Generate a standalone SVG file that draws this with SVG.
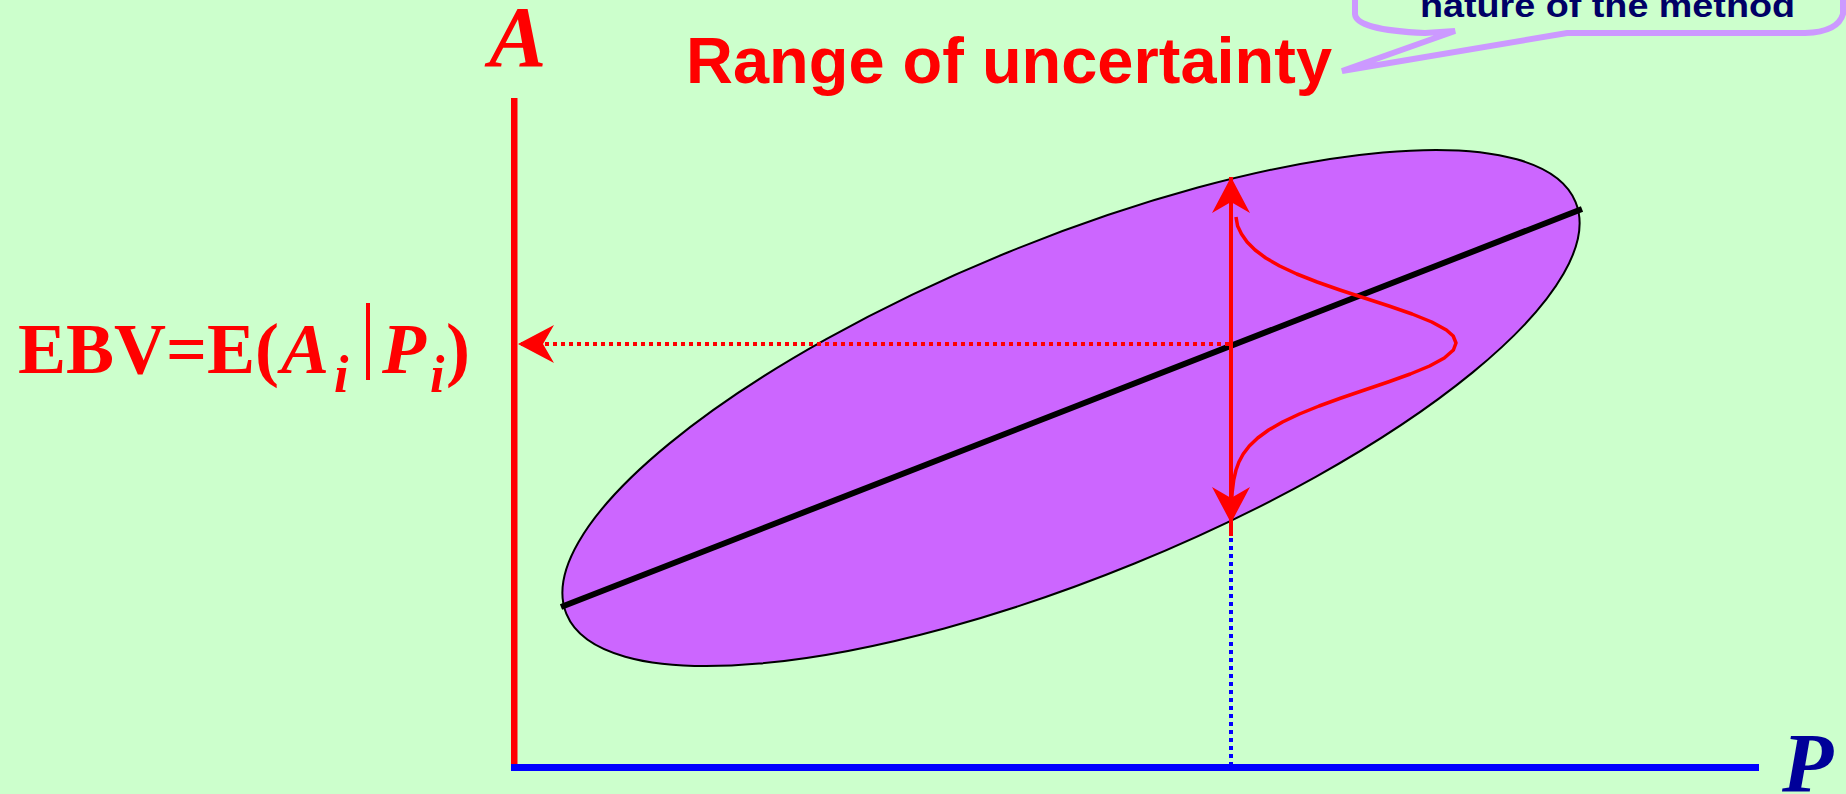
<svg xmlns="http://www.w3.org/2000/svg" width="1846" height="794" viewBox="0 0 1846 794">
  <style>
    .serif { font-family: "Liberation Serif", "Times New Roman", serif; font-weight: bold; }
    .it { font-style: italic; }
    .red { fill: #FF0000; }
    .comic { font-family: "Liberation Sans", Arial, sans-serif; font-weight: bold; }
  </style>
  <defs>
    <marker id="arrow" markerUnits="userSpaceOnUse" markerWidth="40" markerHeight="44" viewBox="-38 -22 40 44" refX="0" refY="0" orient="auto-start-reverse">
      <path d="M0,0 L-36,-19 L-25,0 L-36,19 Z" fill="#FF0000"/>
    </marker>
  </defs>
  <rect x="0" y="0" width="1846" height="794" fill="#CCFFCC"/>

  <g id="ellipse">
    <ellipse cx="1071" cy="408" rx="545" ry="168" transform="rotate(-22.2 1071 408)" fill="#CC66FF" stroke="#000000" stroke-width="2"/>
  </g>

  <g id="axes">
    <rect x="511" y="98" width="6.5" height="670" fill="#FF0000"/>
    <rect x="511" y="764" width="1248" height="7" fill="#0000FF"/>
  </g>

  <g id="connectors">
    <line id="regression" x1="561" y1="607" x2="1582" y2="209" stroke="#000000" stroke-width="6"/>
    <path id="ebv-arrow" d="M1229,344 L518,344" stroke="#FF0000" stroke-width="4" stroke-dasharray="4 4" fill="none" marker-end="url(#arrow)"/>
    <path id="range-arrow" d="M1231,177 L1231,523" stroke="#FF0000" stroke-width="4" fill="none" marker-start="url(#arrow)" marker-end="url(#arrow)"/>
    <line x1="1231" y1="520" x2="1231" y2="536" stroke="#FF0000" stroke-width="4"/>
    <line id="p-drop" x1="1231" y1="538" x2="1231" y2="764" stroke="#0000FF" stroke-width="4" stroke-dasharray="4 4"/>
    <path id="density" d="M1236,217 L1237.6,226 L1241.5,234 L1247.1,242 L1255.1,250 L1265.8,258 L1279.7,266 L1296.8,274 L1317.1,282 L1339.9,290 L1364.4,298 L1389,306 L1412.1,314 L1431.8,322 L1446.4,330 L1453.2,336 L1456,343 L1453.4,350 L1444.3,358 L1429.6,366 L1410.3,374 L1388.1,382 L1364.5,390 L1341.1,398 L1319.1,406 L1299.4,414 L1282.5,422 L1268.6,430 L1257.7,438 L1249.3,446 L1243.2,454 L1238.9,462 L1236,470 L1233.7,480 L1232.2,492 L1231.4,505" fill="none" stroke="#FF0000" stroke-width="3.5" stroke-linejoin="round" stroke-linecap="butt"/>
  </g>

  <g id="callout">
    <path d="M1355,-6 L1355,14 Q1356,30 1425,33 L1455,31 L1342,71 L1567,33 L1805,33 Q1838,32 1843,14 L1843,-6" fill="none" stroke="#CC99FF" stroke-width="6" stroke-linejoin="miter"/>
    <text class="comic" x="1420" y="17" font-size="34" fill="#000066" textLength="375" lengthAdjust="spacingAndGlyphs">nature of the method</text>
  </g>

  <g id="labels">
    <text id="label-range" class="comic red" x="686" y="83" font-size="64" textLength="646" lengthAdjust="spacingAndGlyphs">Range of uncertainty</text>
    <text id="label-A" class="serif it red" x="489" y="66" font-size="86">A</text>
    <text id="label-P" class="serif it" x="1782" y="792" font-size="84" fill="#000099">P</text>
    <g id="label-ebv">
      <text class="serif red" x="18" y="373" font-size="72">EBV=E(</text>
      <text class="serif it red" x="281" y="373" font-size="72">A</text>
      <text class="serif it red" x="334" y="392" font-size="52">i</text>
      <rect x="366" y="303" width="4" height="77" fill="#FF0000"/>
      <text class="serif it red" x="382" y="373" font-size="72">P</text>
      <text class="serif it red" x="430" y="392" font-size="52">i</text>
      <text class="serif red" x="446" y="373" font-size="72">)</text>
    </g>
  </g>
</svg>
